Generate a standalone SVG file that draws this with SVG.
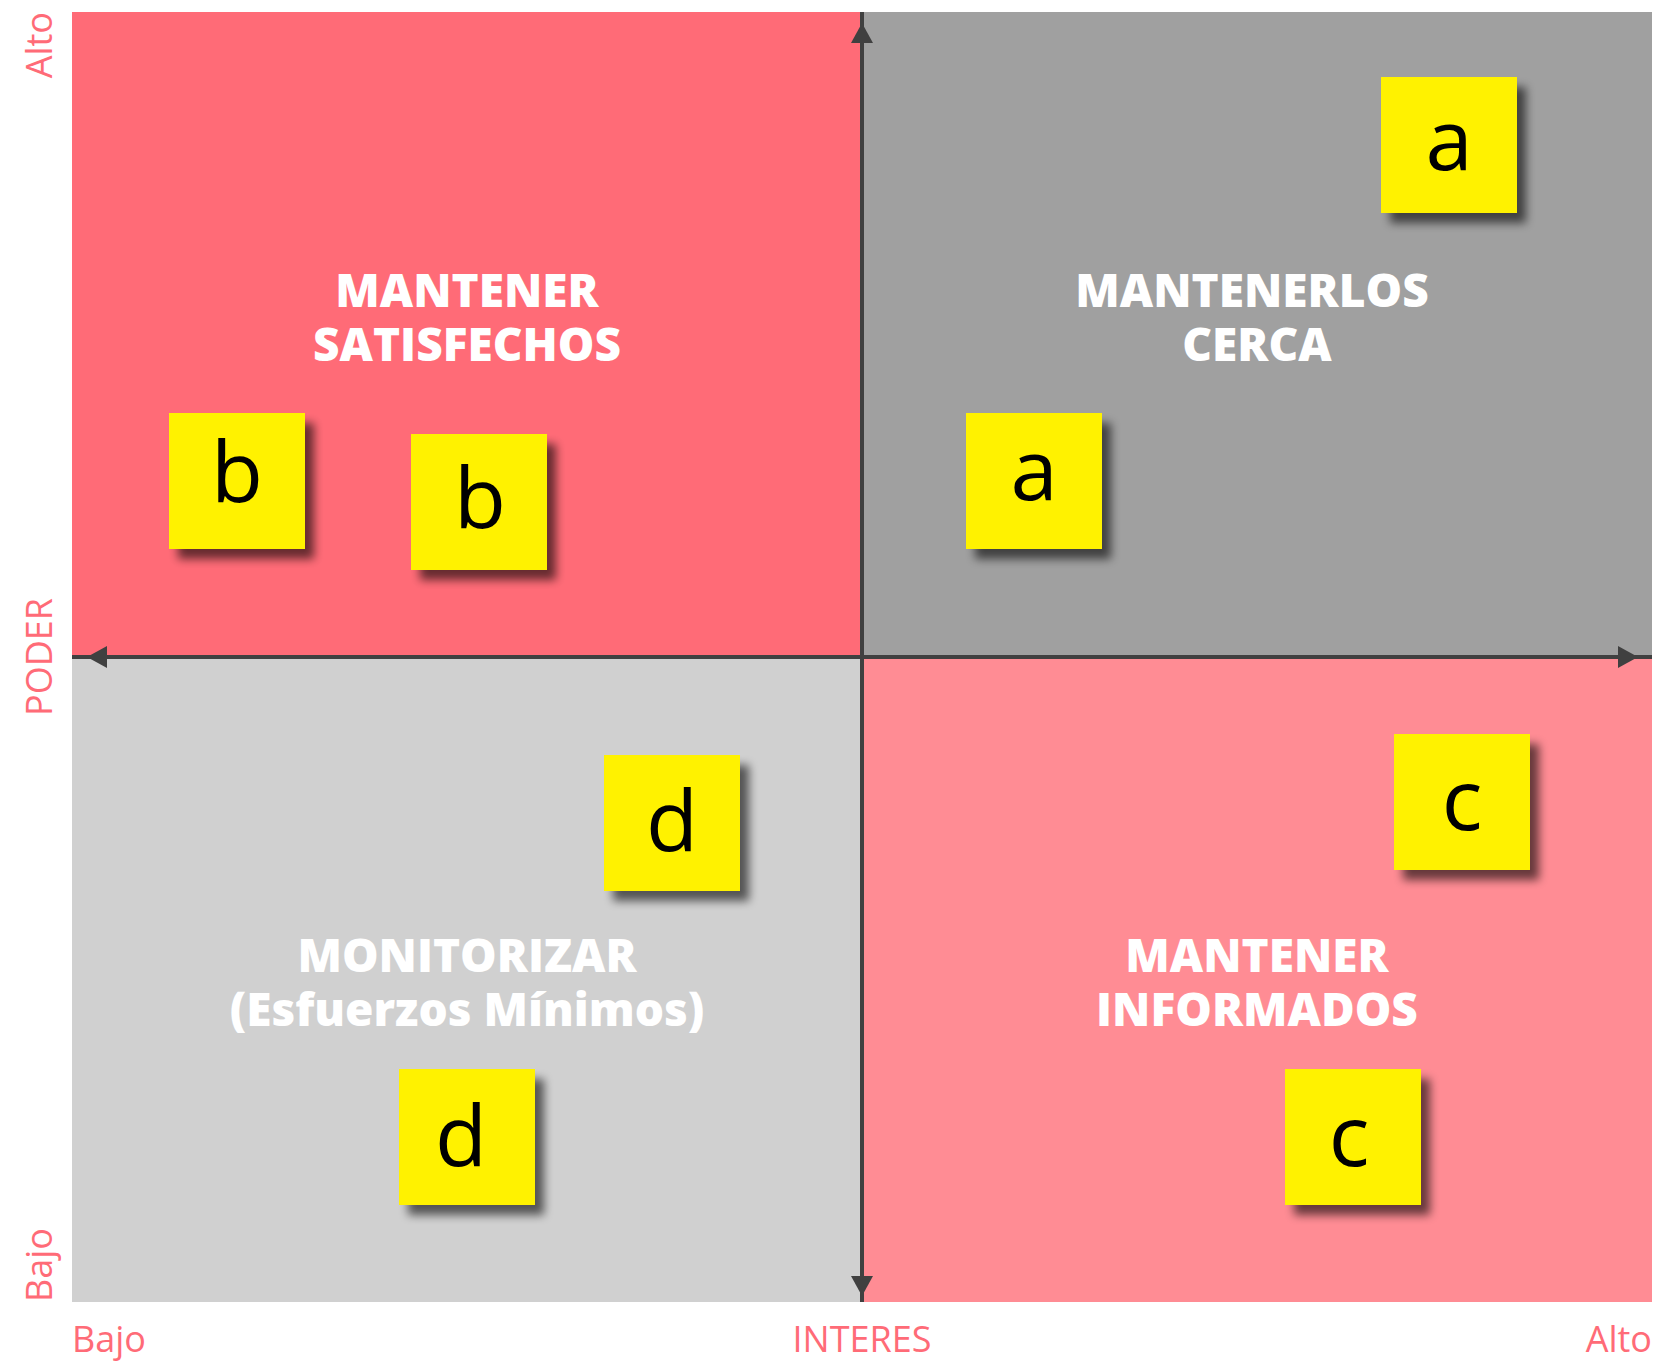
<svg xmlns="http://www.w3.org/2000/svg" width="1673" height="1361" viewBox="0 0 1673 1361">
  <defs>
    <filter id="shadow" x="-20%" y="-20%" width="150%" height="150%">
      <feGaussianBlur in="SourceAlpha" stdDeviation="5"/>
      <feOffset dx="9" dy="10" result="b"/>
      <feComponentTransfer><feFuncA type="linear" slope="0.6"/></feComponentTransfer>
      <feMerge><feMergeNode/><feMergeNode in="SourceGraphic"/></feMerge>
    </filter>
    <marker id="arrow" viewBox="0 0 20 22" refX="19" refY="11" markerWidth="20" markerHeight="22" markerUnits="userSpaceOnUse" orient="auto">
      <path d="M0,0 L20,11 L0,22 Z" fill="#404040"/>
    </marker>
    <style>
      .title { font-family: "Open Sans", "Liberation Sans", sans-serif; font-weight: 800; font-size: 46px; fill: #ffffff; text-anchor: middle; }
      .axis { font-family: "Open Sans", "Liberation Sans", sans-serif; font-size: 36px; fill: #ff6b77; }
      .note rect { fill: #fff200; }
      .note text { font-family: "Open Sans", "Liberation Sans", sans-serif; font-size: 85px; fill: #000000; text-anchor: middle; }
      .conn line { stroke: #404040; stroke-width: 4; fill: none; }
    </style>
  </defs>
  <rect width="1673" height="1361" fill="#ffffff"/>

  <g id="q-satisfechos">
    <rect x="72" y="12" width="790" height="645" fill="#ff6b77"/>
    <text class="title" x="467" y="307">MANTENER</text>
    <text class="title" x="467" y="361">SATISFECHOS</text>
  </g>
  <g id="q-cerca">
    <rect x="862" y="12" width="790" height="645" fill="#a0a0a0"/>
    <text class="title" x="1252" y="307">MANTENERLOS</text>
    <text class="title" x="1257" y="361">CERCA</text>
  </g>
  <g id="q-monitorizar">
    <rect x="72" y="657" width="790" height="645" fill="#d0d0d0"/>
    <text class="title" x="467" y="972">MONITORIZAR</text>
    <text class="title" x="467" y="1026">(Esfuerzos Mínimos)</text>
  </g>
  <g id="q-informados">
    <rect x="862" y="657" width="790" height="645" fill="#ff8c94"/>
    <text class="title" x="1257" y="972">MANTENER</text>
    <text class="title" x="1257" y="1026">INFORMADOS</text>
  </g>

  <g id="connectors" class="conn">
    <line x1="862" y1="1302" x2="862" y2="24" marker-end="url(#arrow)"/>
    <line x1="862" y1="12" x2="862" y2="1295" marker-end="url(#arrow)"/>
    <line x1="1652" y1="657" x2="88" y2="657" marker-end="url(#arrow)"/>
    <line x1="72" y1="657" x2="1637" y2="657" marker-end="url(#arrow)"/>
  </g>

  <g id="note-a1" class="note" filter="url(#shadow)">
    <rect x="1381" y="77" width="136" height="136"/>
    <text x="1449" y="170">a</text>
  </g>
  <g id="note-a2" class="note" filter="url(#shadow)">
    <rect x="966" y="413" width="136" height="136"/>
    <text x="1034" y="500">a</text>
  </g>
  <g id="note-b1" class="note" filter="url(#shadow)">
    <rect x="169" y="413" width="136" height="136"/>
    <text x="237" y="502">b</text>
  </g>
  <g id="note-b2" class="note" filter="url(#shadow)">
    <rect x="411" y="434" width="136" height="136"/>
    <text x="480" y="528">b</text>
  </g>
  <g id="note-d1" class="note" filter="url(#shadow)">
    <rect x="604" y="755" width="136" height="136"/>
    <text x="672" y="851">d</text>
  </g>
  <g id="note-c1" class="note" filter="url(#shadow)">
    <rect x="1394" y="734" width="136" height="136"/>
    <text x="1462" y="830">c</text>
  </g>
  <g id="note-d2" class="note" filter="url(#shadow)">
    <rect x="399" y="1069" width="136" height="136"/>
    <text x="461" y="1166">d</text>
  </g>
  <g id="note-c2" class="note" filter="url(#shadow)">
    <rect x="1285" y="1069" width="136" height="136"/>
    <text x="1349" y="1166">c</text>
  </g>

  <g id="axis-labels">
    <text class="axis" x="72" y="1352">Bajo</text>
    <text class="axis" x="862" y="1352" text-anchor="middle">INTERES</text>
    <text class="axis" x="1652" y="1352" text-anchor="end">Alto</text>
    <text class="axis" transform="translate(52,12) rotate(-90)" text-anchor="end">Alto</text>
    <text class="axis" transform="translate(52,657) rotate(-90)" text-anchor="middle">PODER</text>
    <text class="axis" transform="translate(52,1302) rotate(-90)" text-anchor="start">Bajo</text>
  </g>
</svg>
